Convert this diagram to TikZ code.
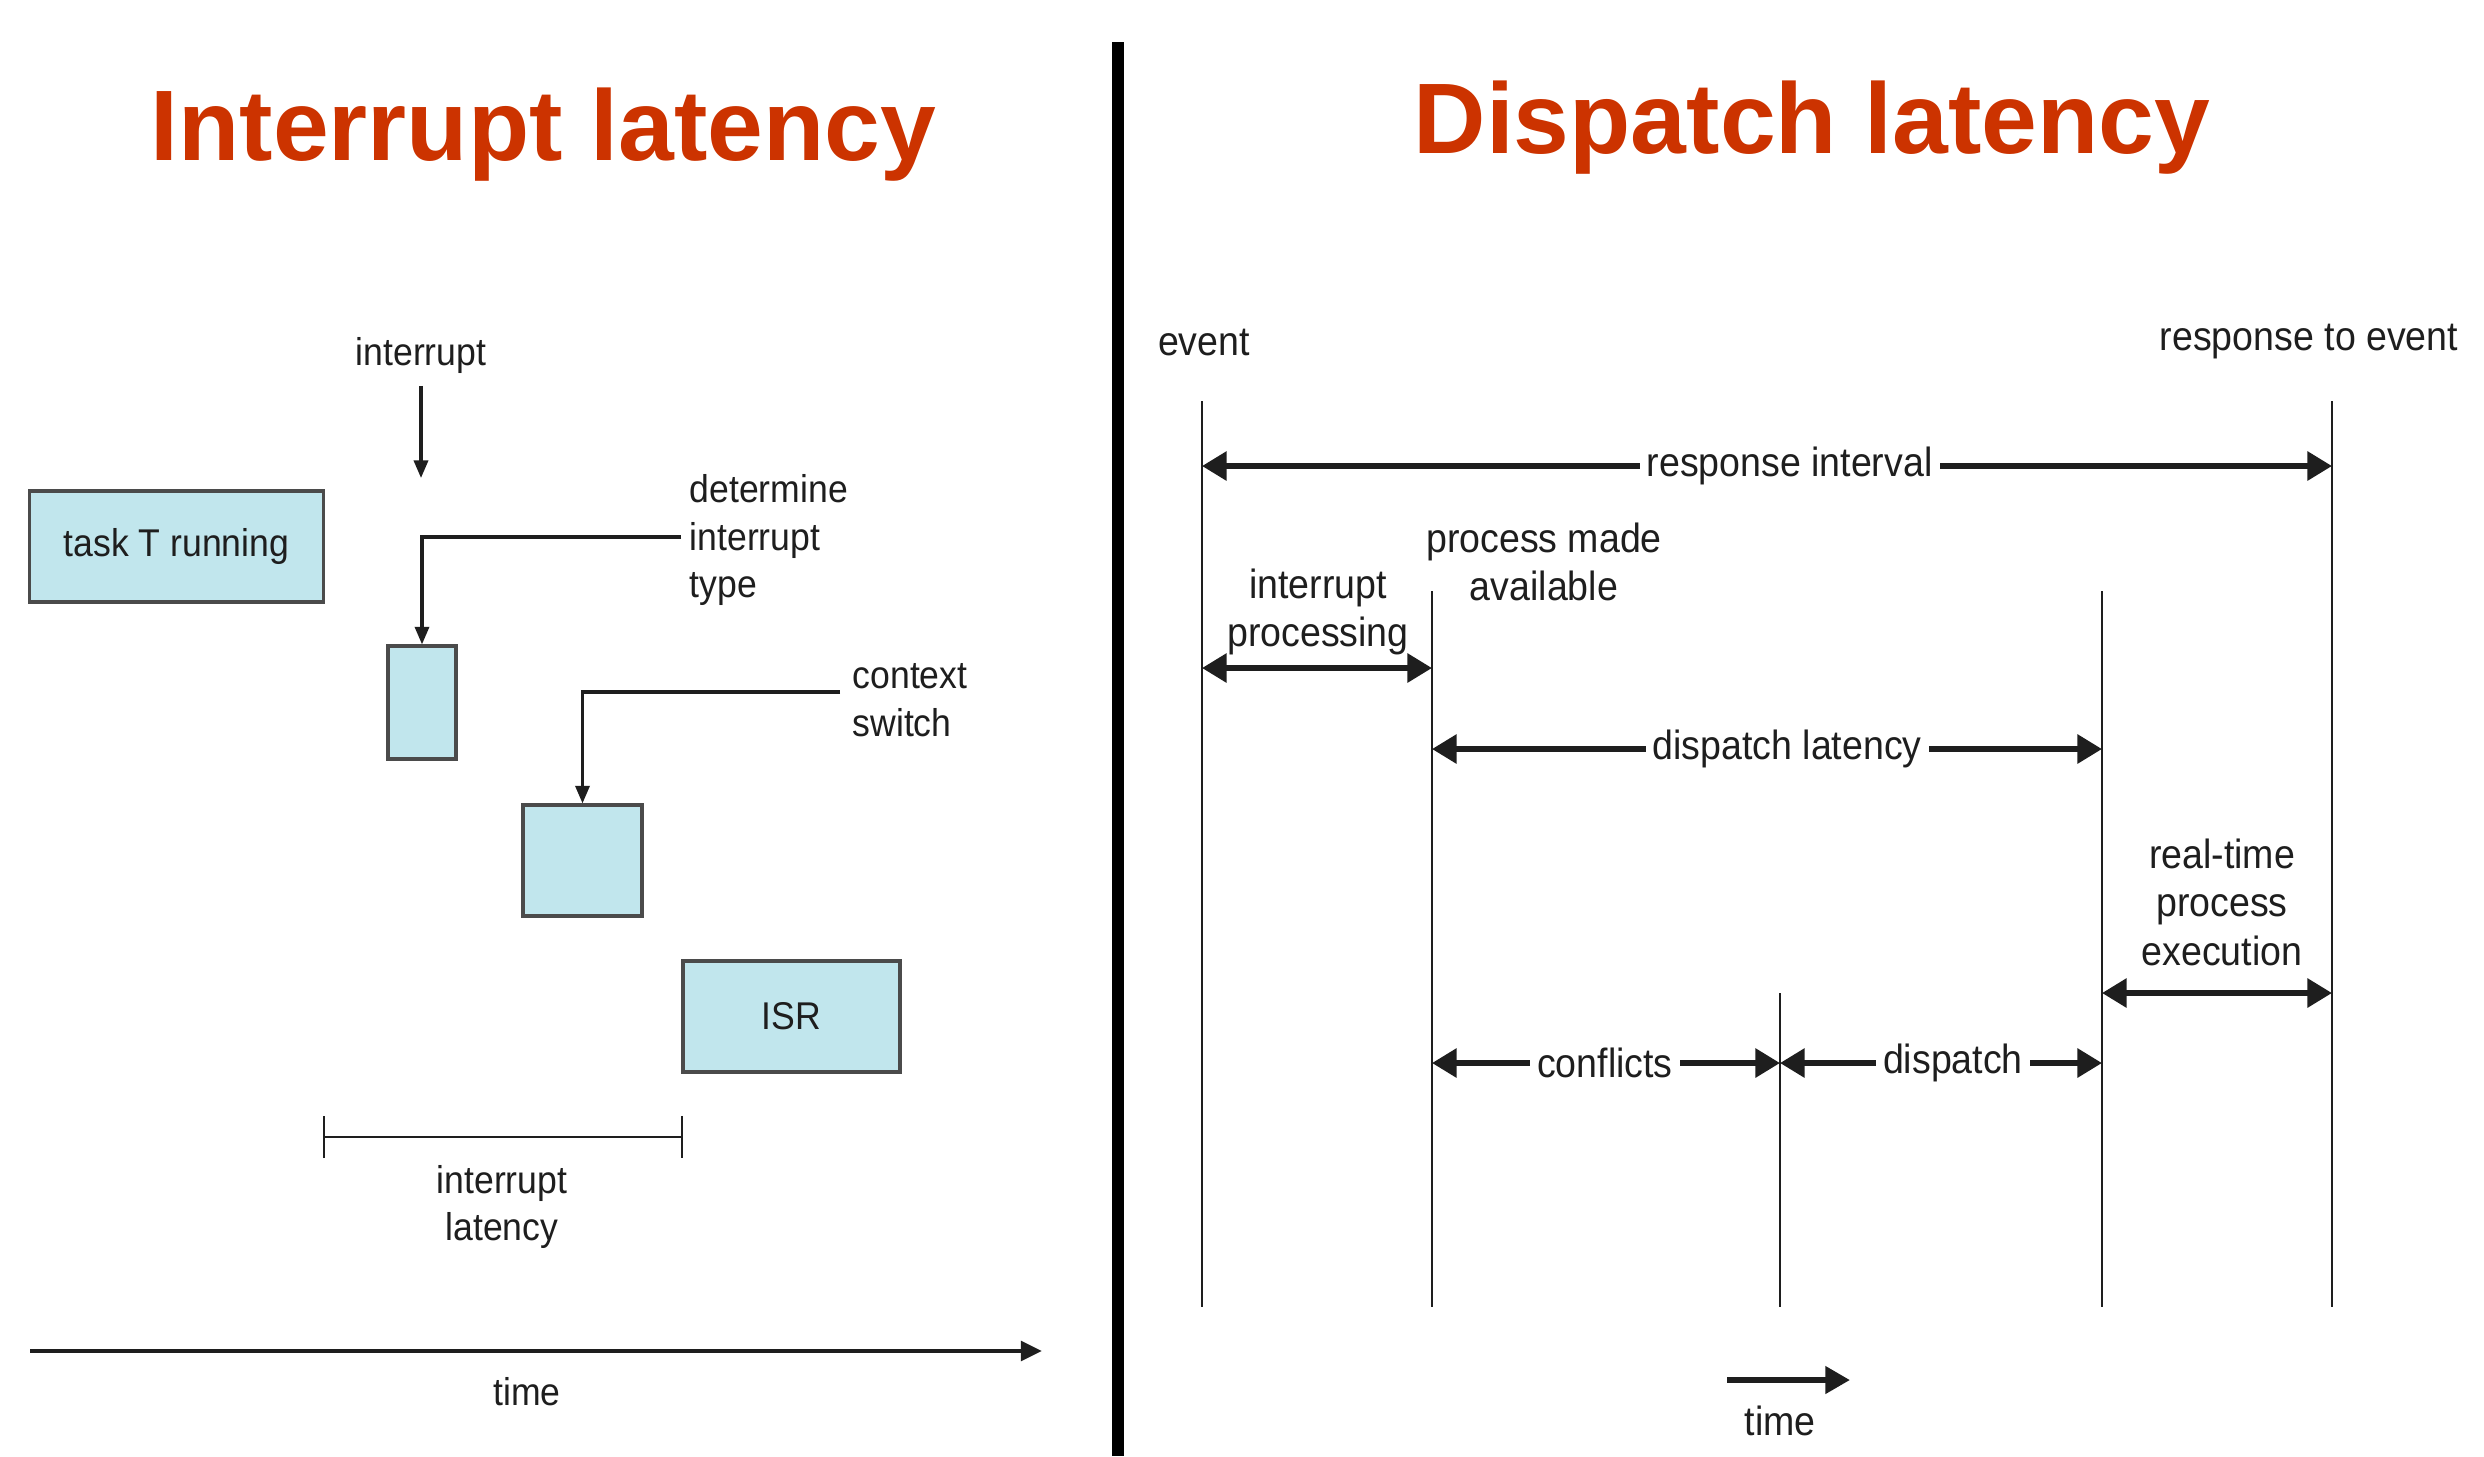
\documentclass[tikz,border=0pt]{standalone}
\usepackage{fontspec}
\setmainfont{Liberation Sans}[FakeStretch=0.92]
\newfontfamily\titlefont{Liberation Sans}
\usetikzlibrary{arrows.meta}
\definecolor{titlered}{RGB}{204,51,0}
\definecolor{boxblue}{RGB}{193,230,237}
\definecolor{ink}{RGB}{30,30,30}
\tikzset{
  ttl/.style={font=\titlefont\bfseries\fontsize{28.5}{34}\selectfont, text=titlered, inner sep=0, anchor=base west},
  box/.style={draw=ink!80, line width=0.9pt, fill=boxblue, inner sep=0},
  lbl/.style={font=\fontsize{11}{13.6}\selectfont, inner sep=0, text=ink},
  rlbl/.style={font=\fontsize{11.6}{13.8}\selectfont, inner sep=0, text=ink},
  larrow/.style={-{Triangle[length=5pt,width=4pt]}, line width=0.9pt, draw=ink},
  rarrow/.style={{Triangle[length=7pt,width=8pt]}-{Triangle[length=7pt,width=8pt]}, line width=1.6pt, draw=ink},
  vline/.style={line width=0.8pt, draw=ink},
  onlbl/.style={rlbl, fill=white, inner xsep=2pt, inner ysep=1pt}
}
\begin{document}
\begin{tikzpicture}[x=0.01cm,y=-0.01cm]
\useasboundingbox[fill=white] (0,0) rectangle (2484,1456);
% titles
\node[ttl] (t1) at (150,160) {Interrupt latency};
\node[ttl] (t2) at (1413,153) {Dispatch latency};
% separator
\fill[black] (1112,42) rectangle (1124,1456);

% ---------- left panel ----------
\node[lbl] (intr) at (421,355) {interrupt};
\coordinate (intrEnd) at (421,478);
\draw[larrow] (intr.south) ++(0,12) -- (intrEnd);

\node[box, minimum width=2.93cm, minimum height=1.11cm, lbl] (task) at (176.5,546.5) {task T running};
\node[box, minimum width=0.68cm, minimum height=1.13cm] (b1) at (422,702.5) {};
\node[box, minimum width=1.19cm, minimum height=1.11cm] (b2) at (582.5,860.5) {};
\node[box, minimum width=2.17cm, minimum height=1.11cm, lbl] (isr) at (791.5,1016.5) {ISR};

\node[lbl, anchor=west, align=left] (det) at (689,540) {determine\\interrupt\\type};
\coordinate (detS) at (681,537);
\draw[larrow] (detS) -| (b1.north);

\node[lbl, anchor=west, align=left] (ctx) at (852,700) {context\\switch};
\coordinate (ctxS) at (840,692);
\draw[larrow] (ctxS) -| (b2.north);

\coordinate (ilA) at (323,1137);
\coordinate (ilB) at (683,1137);
\draw[{Bar[width=12pt]}-{Bar[width=12pt]}, line width=0.7pt, draw=ink] (ilA) -- (ilB);
\node[lbl, align=center] (il) at (502,1207) {interrupt\\latency};

\coordinate (tA) at (30,1351);
\coordinate (tB) at (1042,1351);
\draw[-{Triangle[length=6pt,width=5.5pt]}, line width=1.3pt, draw=ink] (tA) -- (tB);
\node[lbl] (timeL) at (527,1392) {time};

% ---------- right panel ----------
\node[rlbl] (ev) at (1204,342) {event};
\node[rlbl] (rev) at (2309,342) {response to event};

\coordinate (v1t) at (1202,401); \coordinate (v1b) at (1202,1307);
\coordinate (v2t) at (1432,591); \coordinate (v2b) at (1432,1307);
\coordinate (v3t) at (1780,993); \coordinate (v3b) at (1780,1307);
\coordinate (v4t) at (2102,591); \coordinate (v4b) at (2102,1307);
\coordinate (v5t) at (2332,401); \coordinate (v5b) at (2332,1307);
\draw[vline] (v1t) -- (v1b);
\draw[vline] (v2t) -- (v2b);
\draw[vline] (v3t) -- (v3b);
\draw[vline] (v4t) -- (v4b);
\draw[vline] (v5t) -- (v5b);

\draw[rarrow] (v1t |- 0,466) -- node[onlbl, pos=0.52] (ri) {response interval} (v5t |- 0,466);
\node[rlbl, align=center] (ip) at (1318,612) {interrupt\\processing};
\draw[rarrow] (v1t |- 0,668) -- (v2t |- 0,668);
\node[rlbl, align=center] (pma) at (1544,562) {process made\\available};
\draw[rarrow] (v2t |- 0,749) -- node[onlbl, pos=0.53] (dl) {dispatch latency} (v4t |- 0,749);
\node[rlbl, align=center] (rt) at (2222,902) {real-time\\process\\execution};
\draw[rarrow] (v4t |- 0,993) -- (v5t |- 0,993);
\draw[rarrow] (v2t |- 0,1063) -- node[onlbl, pos=0.497] (cf) {conflicts} (v3t |- 0,1063);
\draw[rarrow] (v3t |- 0,1063) -- node[onlbl, pos=0.537] (dp) {dispatch} (v4t |- 0,1063);

\coordinate (rtA) at (1727,1380);
\coordinate (rtB) at (1850,1380);
\draw[-{Triangle[length=7pt,width=7.5pt]}, line width=1.7pt, draw=ink] (rtA) -- (rtB);
\node[rlbl] (timeR) at (1780,1421) {time};
\end{tikzpicture}
\end{document}
